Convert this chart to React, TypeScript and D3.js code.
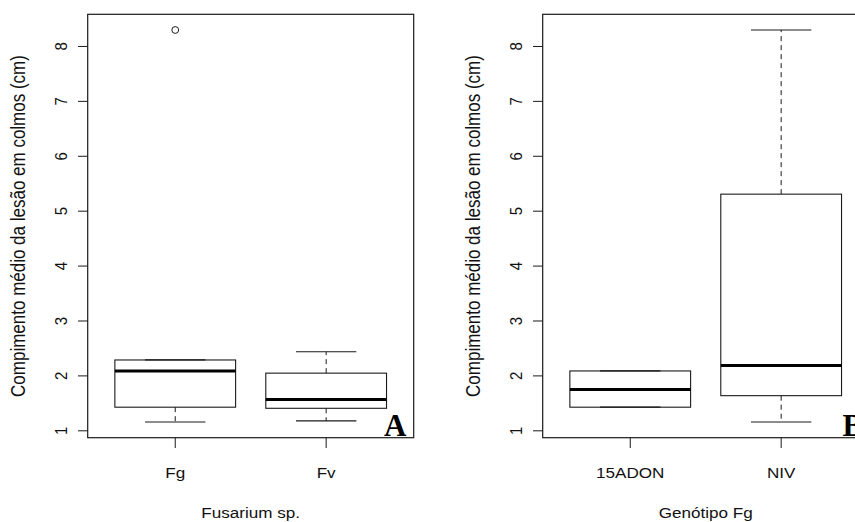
import React from "react";
import * as d3 from "d3";

// ---------- Data ----------
const categoriesA = ["Fg", "Fv"];
const lowerWhiskerA = [1.16, 1.18];
const q1A = [1.43, 1.41];
const medianA = [2.09, 1.57];
const q3A = [2.29, 2.05];
const upperWhiskerA = [2.29, 2.44];
const outliersA: number[][] = [[8.3], []];

const categoriesB = ["15ADON", "NIV"];
const lowerWhiskerB = [1.43, 1.16];
const q1B = [1.43, 1.64];
const medianB = [1.75, 2.19];
const q3B = [2.09, 5.31];
const upperWhiskerB = [2.09, 8.3];
const outliersB: number[][] = [[], []];

const yTicks = [1, 2, 3, 4, 5, 6, 7, 8];
const yTitle = "Compimento médio da lesão em colmos (cm)";
const xTitleA = "Fusarium sp.";
const xTitleB = "Genótipo Fg";

// ---------- Layout ----------
const W = 855;
const H = 522;
const TOP = 14.3;
const BOTTOM = 437.7;
const SX = 1.14; // horizontal stretch of text in the reference
const SANS = "'Liberation Sans', Arial, Helvetica, sans-serif";
const SERIF = "'Liberation Serif', 'Times New Roman', serif";
const INK = "#1a1a1a";

type PanelProps = {
  left: number;
  right: number;
  cats: string[];
  lo: number[];
  q1: number[];
  med: number[];
  q3: number[];
  hi: number[];
  out: number[][];
  xTitle: string;
  letter: string;
  letterX: number;
  letterAnchor: "start" | "end";
};

function Panel(p: PanelProps) {
  const n = p.cats.length;
  const xPad = n * 0.04;
  const x = d3.scaleLinear().domain([0.5 - xPad, n + 0.5 + xPad]).range([p.left, p.right]);
  const allVals = [...p.lo, ...p.hi, ...p.out.flat()];
  const vMin = d3.min(allVals) as number;
  const vMax = d3.max(allVals) as number;
  const yPad = (vMax - vMin) * 0.04;
  const y = d3.scaleLinear().domain([vMin - yPad, vMax + yPad]).range([BOTTOM, TOP]);
  const boxW = x(0.8) - x(0);
  const capW = boxW * 0.5;
  const cx = (p.left + p.right) / 2;

  return (
    <g>
      {/* boxes */}
      {p.cats.map((c, i) => {
        const xc = x(i + 1);
        return (
          <g key={c}>
            {p.hi[i] > p.q3[i] && (
              <line x1={xc} x2={xc} y1={y(p.q3[i])} y2={y(p.hi[i])} stroke={INK} strokeWidth={1} strokeDasharray="5,4" />
            )}
            {p.lo[i] < p.q1[i] && (
              <line x1={xc} x2={xc} y1={y(p.q1[i])} y2={y(p.lo[i])} stroke={INK} strokeWidth={1} strokeDasharray="5,4" />
            )}
            <line x1={xc - capW / 2} x2={xc + capW / 2} y1={y(p.hi[i])} y2={y(p.hi[i])} stroke={INK} strokeWidth={1.2} />
            <line x1={xc - capW / 2} x2={xc + capW / 2} y1={y(p.lo[i])} y2={y(p.lo[i])} stroke={INK} strokeWidth={1.2} />
            <rect
              x={xc - boxW / 2}
              y={y(p.q3[i])}
              width={boxW}
              height={y(p.q1[i]) - y(p.q3[i])}
              fill="none"
              stroke={INK}
              strokeWidth={1.1}
            />
            <line x1={xc - boxW / 2} x2={xc + boxW / 2} y1={y(p.med[i])} y2={y(p.med[i])} stroke="#000" strokeWidth={3} />
            {p.out[i].map((v, j) => (
              <circle key={j} cx={xc} cy={y(v)} r={3.4} fill="none" stroke={INK} strokeWidth={1} />
            ))}
          </g>
        );
      })}

      {/* frame */}
      <rect x={p.left} y={TOP} width={p.right - p.left} height={BOTTOM - TOP} fill="none" stroke={INK} strokeWidth={1.2} />

      {/* y axis */}
      {yTicks.map((t) => (
        <g key={t}>
          <line x1={p.left - 9.7} x2={p.left} y1={y(t)} y2={y(t)} stroke={INK} strokeWidth={1} />
          <text
            transform={`translate(${p.left - 21},${y(t)}) scale(${SX},1) rotate(-90)`}
            textAnchor="middle"
            fontFamily={SANS}
            fontSize={15}
            fill="#111"
          >
            {t}
          </text>
        </g>
      ))}
      <text
        transform={`translate(${p.left - 63},${(TOP + BOTTOM) / 2}) scale(${SX},1) rotate(-90)`}
        textAnchor="middle"
        fontFamily={SANS}
        fontSize={17}
        fill="#111"
      >
        {yTitle}
      </text>

      {/* x axis */}
      {p.cats.map((c, i) => (
        <g key={c}>
          <line x1={x(i + 1)} x2={x(i + 1)} y1={BOTTOM} y2={BOTTOM + 10.3} stroke={INK} strokeWidth={1} />
          <text
            transform={`translate(${x(i + 1)},477.5) scale(${SX},1)`}
            textAnchor="middle"
            fontFamily={SANS}
            fontSize={15}
            fill="#111"
          >
            {c}
          </text>
        </g>
      ))}
      <text
        transform={`translate(${cx},518.3) scale(${SX},1)`}
        textAnchor="middle"
        fontFamily={SANS}
        fontSize={15}
        fill="#111"
      >
        {p.xTitle}
      </text>

      {/* panel letter */}
      <text
        x={p.letterX}
        y={436}
        textAnchor={p.letterAnchor}
        fontFamily={SERIF}
        fontWeight="bold"
        fontSize={31}
        fill="#000"
      >
        {p.letter}
      </text>
    </g>
  );
}

export default function App() {
  return (
    <svg
      width={W}
      height={H}
      viewBox={`0 0 ${W} ${H}`}
      style={{ position: "fixed", left: 0, top: 0, background: "#fff", display: "block" }}
    >
      <rect x={0} y={0} width={W} height={H} fill="#fff" />
      <Panel
        left={87.7}
        right={413.7}
        cats={categoriesA}
        lo={lowerWhiskerA}
        q1={q1A}
        med={medianA}
        q3={q3A}
        hi={upperWhiskerA}
        out={outliersA}
        xTitle={xTitleA}
        letter="A"
        letterX={406.5}
        letterAnchor="end"
      />
      <Panel
        left={542.7}
        right={868.7}
        cats={categoriesB}
        lo={lowerWhiskerB}
        q1={q1B}
        med={medianB}
        q3={q3B}
        hi={upperWhiskerB}
        out={outliersB}
        xTitle={xTitleB}
        letter="B"
        letterX={842.5}
        letterAnchor="start"
      />
    </svg>
  );
}
